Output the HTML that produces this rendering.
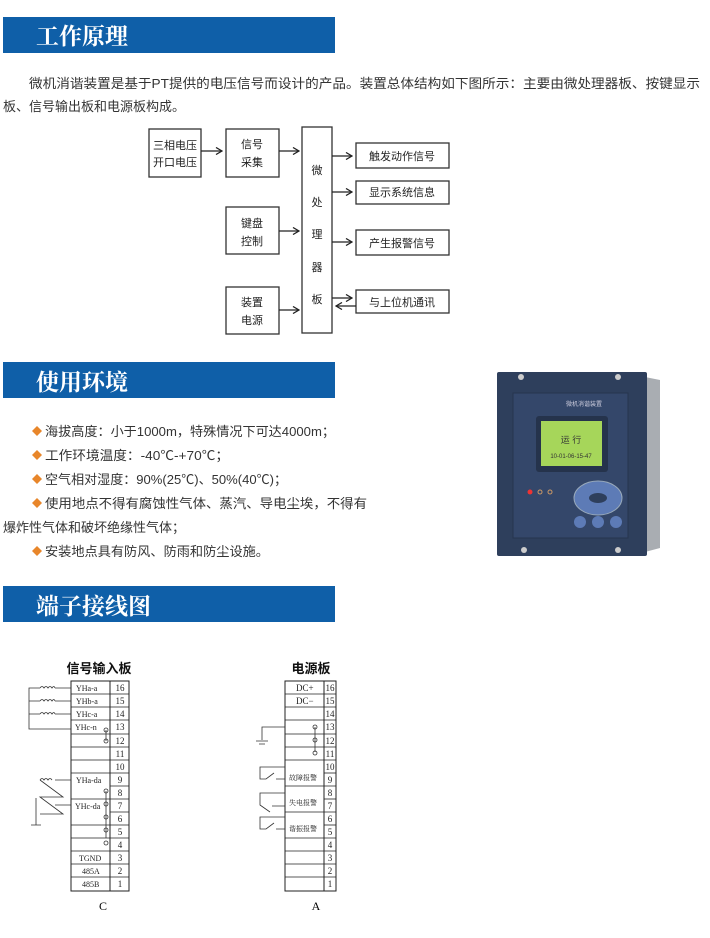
<!DOCTYPE html>
<html><head><meta charset="utf-8"><style>
body{margin:0;background:#fff;}
svg{display:block;font-family:"Liberation Sans","Noto Sans CJK SC",sans-serif;}
.s{font-family:"Liberation Serif","Noto Serif CJK SC",serif;}
</style></head><body>
<svg width="710" height="938" viewBox="0 0 710 938" xmlns="http://www.w3.org/2000/svg">
<defs><marker id="ar" markerWidth="8" markerHeight="8" refX="7" refY="4" orient="auto" markerUnits="userSpaceOnUse"><path d="M1,0.5 L7,4 L1,7.5" fill="none" stroke="#222" stroke-width="1.3"/></marker></defs>
<rect x="3" y="17" width="332" height="36" fill="#0f5fa8"/>
<text x="36" y="44" font-size="23" fill="#fff" font-weight="bold" class="s">工作原理</text>
<rect x="3" y="362" width="332" height="36" fill="#0f5fa8"/>
<text x="36" y="390" font-size="23" fill="#fff" font-weight="bold" class="s">使用环境</text>
<rect x="3" y="586" width="332" height="36" fill="#0f5fa8"/>
<text x="36" y="614" font-size="23" fill="#fff" font-weight="bold" class="s">端子接线图</text>
<g font-size="13" fill="#333">
<text x="29" y="88" textLength="671" lengthAdjust="spacingAndGlyphs">微机消谐装置是基于PT提供的电压信号而设计的产品。装置总体结构如下图所示：主要由微处理器板、按键显示</text>
<text x="3" y="111" textLength="182" lengthAdjust="spacingAndGlyphs">板、信号输出板和电源板构成。</text>
</g>
<g fill="none" stroke="#333" stroke-width="1.3">
<rect x="149" y="129" width="52" height="48"/>
<rect x="226" y="129" width="53" height="48"/>
<rect x="226" y="207" width="53" height="47"/>
<rect x="226" y="287" width="53" height="47"/>
<rect x="302" y="127" width="30" height="206"/>
<rect x="356" y="143" width="93" height="25"/>
<rect x="356" y="181" width="93" height="23"/>
<rect x="356" y="230" width="93" height="25"/>
<rect x="356" y="290" width="93" height="23"/>
</g>
<g stroke="#222" stroke-width="1.3" marker-end="url(#ar)">
<line x1="201" y1="151" x2="222" y2="151"/>
<line x1="279" y1="151" x2="299" y2="151"/>
<line x1="279" y1="231" x2="299" y2="231"/>
<line x1="279" y1="310" x2="299" y2="310"/>
<line x1="332" y1="156" x2="352" y2="156"/>
<line x1="332" y1="192" x2="352" y2="192"/>
<line x1="332" y1="242" x2="352" y2="242"/>
<line x1="332" y1="298" x2="352" y2="298"/>
<line x1="356" y1="306" x2="336" y2="306"/>
</g>
<g font-size="11" fill="#222" text-anchor="middle">
<text x="175" y="149">三相电压</text><text x="175" y="166">开口电压</text>
<text x="252" y="148">信号</text><text x="252" y="166">采集</text>
<text x="252" y="227">键盘</text><text x="252" y="245">控制</text>
<text x="252" y="306">装置</text><text x="252" y="324">电源</text>
<text x="317" y="174">微</text><text x="317" y="206">处</text><text x="317" y="238">理</text><text x="317" y="271">器</text><text x="317" y="303">板</text>
<text x="402" y="160">触发动作信号</text>
<text x="402" y="196">显示系统信息</text>
<text x="402" y="247">产生报警信号</text>
<text x="402" y="306">与上位机通讯</text>
</g>
<g font-size="13" fill="#333">
<text x="45" y="436" textLength="290" lengthAdjust="spacingAndGlyphs">海拔高度：小于1000m，特殊情况下可达4000m；</text>
<text x="45" y="460" textLength="184" lengthAdjust="spacingAndGlyphs">工作环境温度：-40℃-+70℃；</text>
<text x="45" y="484" textLength="242" lengthAdjust="spacingAndGlyphs">空气相对湿度：90%(25℃)、50%(40℃)；</text>
<text x="45" y="508" textLength="322" lengthAdjust="spacingAndGlyphs">使用地点不得有腐蚀性气体、蒸汽、导电尘埃，不得有</text>
<text x="3" y="532" textLength="182" lengthAdjust="spacingAndGlyphs">爆炸性气体和破坏绝缘性气体；</text>
<text x="45" y="556" textLength="224" lengthAdjust="spacingAndGlyphs">安装地点具有防风、防雨和防尘设施。</text>
</g>
<g fill="#e8862a">
<path d="M37,426 l5,5 -5,5 -5,-5z"/><path d="M37,450 l5,5 -5,5 -5,-5z"/><path d="M37,474 l5,5 -5,5 -5,-5z"/><path d="M37,498 l5,5 -5,5 -5,-5z"/><path d="M37,546 l5,5 -5,5 -5,-5z"/>
</g>
<path d="M645,377 L660,380 L660,548 L645,552z" fill="#a9adb2"/>
<rect x="497" y="372" width="150" height="184" fill="#2e3f5c" rx="2"/>
<rect x="513" y="393" width="115" height="145" fill="#34476a" stroke="#26344e"/>
<circle cx="521" cy="377" r="3" fill="#ccc"/><circle cx="618" cy="377" r="3" fill="#ccc"/>
<circle cx="524" cy="550" r="3" fill="#ccc"/><circle cx="618" cy="550" r="3" fill="#ccc"/>
<text x="566" y="406" font-size="6" fill="#ccd">微机消谐装置</text>
<rect x="536" y="416" width="72" height="56" fill="#25334c" rx="3"/>
<rect x="541" y="421" width="61" height="45" fill="#a6d65a"/>
<text x="571" y="443" font-size="9" fill="#333" text-anchor="middle">运 行</text>
<text x="571" y="458" font-size="6" fill="#333" text-anchor="middle">10-01-06-15-47</text>
<circle cx="530" cy="492" r="2.5" fill="#e33"/><circle cx="540" cy="492" r="2" fill="none" stroke="#c96"/><circle cx="550" cy="492" r="2" fill="none" stroke="#c96"/>
<ellipse cx="598" cy="498" rx="24" ry="17" fill="#5d7bb6" stroke="#9ab"/>
<ellipse cx="598" cy="498" rx="9" ry="5" fill="#2e3f5c"/>
<circle cx="580" cy="522" r="6" fill="#5d7bb6"/><circle cx="598" cy="522" r="6" fill="#5d7bb6"/><circle cx="616" cy="522" r="6" fill="#5d7bb6"/>
<text x="99" y="673" font-size="13" font-weight="bold" fill="#111" text-anchor="middle">信号输入板</text>
<text x="311" y="673" font-size="13" font-weight="bold" fill="#111" text-anchor="middle">电源板</text>
<g fill="none" stroke="#222" stroke-width="1">
<rect x="71" y="681" width="58" height="210"/><line x1="110" y1="681" x2="110" y2="891"/>
<rect x="285" y="681" width="51" height="210"/><line x1="324" y1="681" x2="324" y2="891"/>
</g>
<g stroke="#222" stroke-width="0.8">
<line x1="71" y1="694" x2="129" y2="694"/><line x1="71" y1="707" x2="129" y2="707"/><line x1="71" y1="720" x2="129" y2="720"/><line x1="71" y1="734" x2="129" y2="734"/><line x1="71" y1="747" x2="129" y2="747"/><line x1="71" y1="760" x2="129" y2="760"/><line x1="71" y1="773" x2="129" y2="773"/><line x1="110" y1="786" x2="129" y2="786"/><line x1="71" y1="799" x2="129" y2="799"/><line x1="110" y1="812" x2="129" y2="812"/><line x1="71" y1="825" x2="129" y2="825"/><line x1="71" y1="838" x2="129" y2="838"/><line x1="71" y1="851" x2="129" y2="851"/><line x1="71" y1="864" x2="129" y2="864"/><line x1="71" y1="877" x2="129" y2="877"/>
<line x1="285" y1="694" x2="336" y2="694"/><line x1="285" y1="707" x2="336" y2="707"/><line x1="285" y1="720" x2="336" y2="720"/><line x1="285" y1="734" x2="336" y2="734"/><line x1="285" y1="747" x2="336" y2="747"/><line x1="285" y1="760" x2="336" y2="760"/><line x1="324" y1="773" x2="336" y2="773"/><line x1="285" y1="786" x2="336" y2="786"/><line x1="324" y1="799" x2="336" y2="799"/><line x1="285" y1="812" x2="336" y2="812"/><line x1="324" y1="825" x2="336" y2="825"/><line x1="285" y1="838" x2="336" y2="838"/><line x1="285" y1="851" x2="336" y2="851"/><line x1="285" y1="864" x2="336" y2="864"/><line x1="285" y1="877" x2="336" y2="877"/>
</g>
<g font-size="9" fill="#222" text-anchor="middle" class="s">
<text x="120" y="691">16</text><text x="120" y="704">15</text><text x="120" y="717">14</text><text x="120" y="730">13</text><text x="120" y="744">12</text><text x="120" y="757">11</text><text x="120" y="770">10</text><text x="120" y="783">9</text><text x="120" y="796">8</text><text x="120" y="809">7</text><text x="120" y="822">6</text><text x="120" y="835">5</text><text x="120" y="848">4</text><text x="120" y="861">3</text><text x="120" y="874">2</text><text x="120" y="887">1</text>
<text x="330" y="691">16</text><text x="330" y="704">15</text><text x="330" y="717">14</text><text x="330" y="730">13</text><text x="330" y="744">12</text><text x="330" y="757">11</text><text x="330" y="770">10</text><text x="330" y="783">9</text><text x="330" y="796">8</text><text x="330" y="809">7</text><text x="330" y="822">6</text><text x="330" y="835">5</text><text x="330" y="848">4</text><text x="330" y="861">3</text><text x="330" y="874">2</text><text x="330" y="887">1</text>
</g>
<g font-size="8" fill="#222" class="s">
<text x="76" y="691">YHa-a</text><text x="76" y="704">YHb-a</text><text x="76" y="717">YHc-a</text><text x="75" y="730">YHc-n</text>
<text x="76" y="783">YHa-da</text><text x="75" y="809">YHc-da</text>
<text x="79" y="861">TGND</text><text x="82" y="874">485A</text><text x="82" y="887">485B</text>
<text x="296" y="691" font-size="9">DC+</text><text x="296" y="704" font-size="9">DC−</text>
<text x="289" y="780" font-size="7">故障报警</text><text x="289" y="805" font-size="7">失电报警</text><text x="289" y="831" font-size="7">谐振报警</text>
</g>
<text x="103" y="910" font-size="12" class="s" text-anchor="middle">C</text>
<text x="316" y="910" font-size="12" class="s" text-anchor="middle">A</text>
<g fill="none" stroke="#333" stroke-width="0.8">
<path d="M71,688 H55 M40,688 H29 V729 H71 M71,701 H55 M40,701 H29 M71,714 H55 M40,714 H29"/>
<path d="M40,688 q2,-3 4,0 q2,-3 4,0 q2,-3 4,0 q2,-3 3,0 M40,701 q2,-3 4,0 q2,-3 4,0 q2,-3 4,0 q2,-3 3,0 M40,714 q2,-3 4,0 q2,-3 4,0 q2,-3 4,0 q2,-3 3,0"/>
<path d="M71,780 H55 M71,805 H55 M40,780 L63,797 L40,797 L63,814 L40,814 M36,798 V825 M31,825 H41"/>
<path d="M40,780 q2,-3 4,0 q2,-3 4,0 q2,-3 4,0"/>
<path d="M106,730 V741 M106,791 V838"/>
<circle cx="106" cy="730" r="2"/><circle cx="106" cy="741" r="2"/><circle cx="106" cy="791" r="2"/><circle cx="106" cy="804" r="2"/><circle cx="106" cy="817" r="2"/><circle cx="106" cy="830" r="2"/><circle cx="106" cy="843" r="2"/>
<path d="M285,727 H262 V740 M256,741 H268 M259,744 H265"/>
<path d="M315,727 V752"/><circle cx="315" cy="727" r="2"/><circle cx="315" cy="740" r="2"/><circle cx="315" cy="753" r="2"/>
<path d="M285,767 H260 V779 H266 L274,773 M276,779 H285"/>
<path d="M285,793 H260 V805 L270,812 M272,806 H285"/>
<path d="M285,817 H260 V829 H266 L274,823 M276,829 H285"/>
</g>
</svg>
</body></html>
